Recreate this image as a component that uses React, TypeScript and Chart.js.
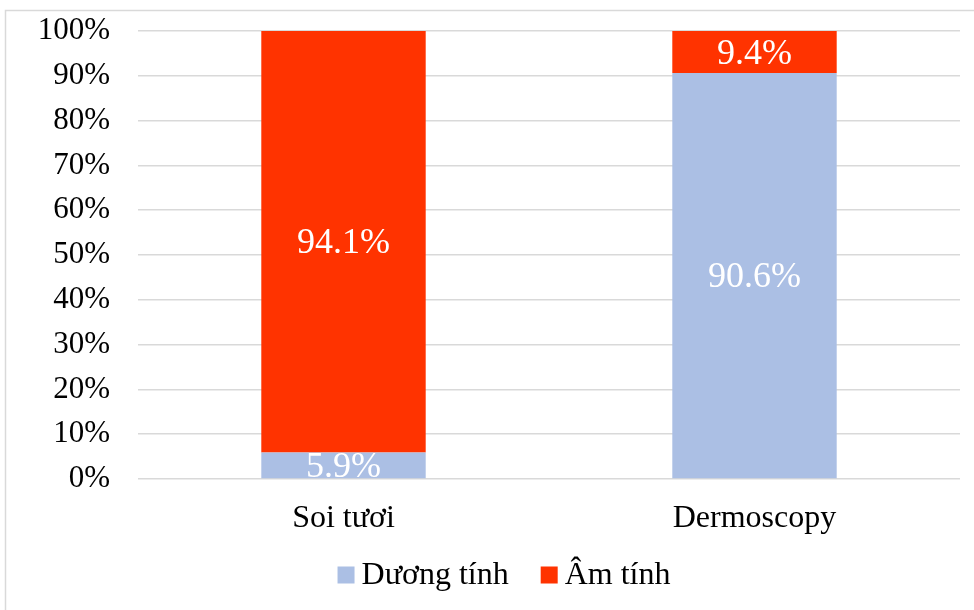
import React, { useEffect, useRef } from "react";
import { Chart, registerables } from "chart.js";

Chart.register(...registerables);

const categories = ["Soi tươi", "Dermoscopy"];
const positiveValues = [5.9, 90.6];
const negativeValues = [94.1, 9.4];
const seriesNames = ["Dương tính", "Âm tính"];
const seriesColors = ["#ABBFE4", "#FF3300"];
const yTicks = [0, 10, 20, 30, 40, 50, 60, 70, 80, 90, 100];

const FONT = "'Liberation Serif', 'Times New Roman', serif";

const frameAndLegend = {
  id: "frameAndLegend",
  beforeDraw(chart: any) {
    const ctx = chart.ctx;
    ctx.save();
    ctx.strokeStyle = "#d9d9d9";
    ctx.lineWidth = 1.5;
    ctx.strokeRect(5.5, 10.5, chart.width + 20, chart.height + 20);
    ctx.restore();
  },
  afterDraw(chart: any) {
    const ctx = chart.ctx;
    ctx.save();
    ctx.font = `32px ${FONT}`;
    ctx.textBaseline = "middle";
    ctx.textAlign = "left";
    const box = 17;
    const gap = 7;
    const itemGap = 32;
    const widths = chart.data.datasets.map((d: any) => box + gap + ctx.measureText(d.label).width);
    const total = widths.reduce((a: number, b: number) => a + b, 0) + itemGap * (widths.length - 1);
    let x = (chart.width - total) / 2 + 17;
    const y = 575;
    chart.data.datasets.forEach((d: any, i: number) => {
      ctx.fillStyle = d.backgroundColor;
      ctx.fillRect(x, y - box / 2, box, box);
      ctx.fillStyle = "#000";
      ctx.fillText(d.label, x + box + gap, y + 1);
      x += widths[i] + itemGap;
    });
    ctx.restore();
  },
};

const dataLabels = {
  id: "dataLabels",
  afterDatasetsDraw(chart: any) {
    const ctx = chart.ctx;
    const area = chart.chartArea;
    ctx.save();
    ctx.beginPath();
    ctx.rect(area.left, area.top, area.right - area.left, area.bottom - area.top);
    ctx.clip();
    ctx.font = `36px ${FONT}`;
    ctx.fillStyle = "#ffffff";
    ctx.textAlign = "center";
    ctx.textBaseline = "middle";
    chart.data.datasets.forEach((ds: any, di: number) => {
      const meta = chart.getDatasetMeta(di);
      meta.data.forEach((bar: any, i: number) => {
        const v = ds.data[i];
        const yMid = (bar.y + bar.base) / 2;
        ctx.fillText(v.toFixed(1) + "%", bar.x, yMid + 2);
      });
    });
    ctx.restore();
  },
};

export default function App() {
  const ref = useRef<HTMLCanvasElement>(null);
  useEffect(() => {
    const chart = new Chart(ref.current!, {
      type: "bar",
      data: {
        labels: categories,
        datasets: [
          { label: seriesNames[0], data: positiveValues, backgroundColor: seriesColors[0] },
          { label: seriesNames[1], data: negativeValues, backgroundColor: seriesColors[1] },
        ],
      },
      options: {
        animation: false,
        responsive: false,
        maintainAspectRatio: false,
        devicePixelRatio: 1,
        layout: { padding: { top: 31, right: 14, bottom: 61, left: 0 } },
        datasets: { bar: { barPercentage: 0.4, categoryPercentage: 1 } },
        plugins: { legend: { display: false }, tooltip: { enabled: false } },
        scales: {
          x: {
            stacked: true,
            grid: { display: false, drawTicks: false },
            border: { display: false },
            ticks: { color: "#000", font: { family: FONT, size: 32 }, padding: 20 },
            afterFit(scale: any) {
              scale.height = 70;
              scale.paddingLeft = 0;
              scale.paddingRight = 0;
            },
          },
          y: {
            stacked: true,
            min: 0,
            max: 100,
            afterBuildTicks(scale: any) {
              scale.ticks = yTicks.map((v) => ({ value: v }));
            },
            grid: { color: "#d9d9d9", lineWidth: 1.5, drawTicks: false },
            border: { display: false },
            ticks: {
              color: "#000",
              font: { family: FONT, size: 31 },
              padding: 28,
              callback: (v: any) => v + "%",
            },
            afterFit(scale: any) {
              scale.width = 138;
              scale.paddingTop = 0;
              scale.paddingBottom = 0;
            },
          },
        },
      },
      plugins: [frameAndLegend, dataLabels],
    });
    return () => chart.destroy();
  }, []);
  return (
    <div style={{ position: "fixed", left: 0, top: 0, width: 974, height: 610, background: "#fff" }}>
      <canvas ref={ref} width={974} height={610} style={{ display: "block" }} />
    </div>
  );
}
